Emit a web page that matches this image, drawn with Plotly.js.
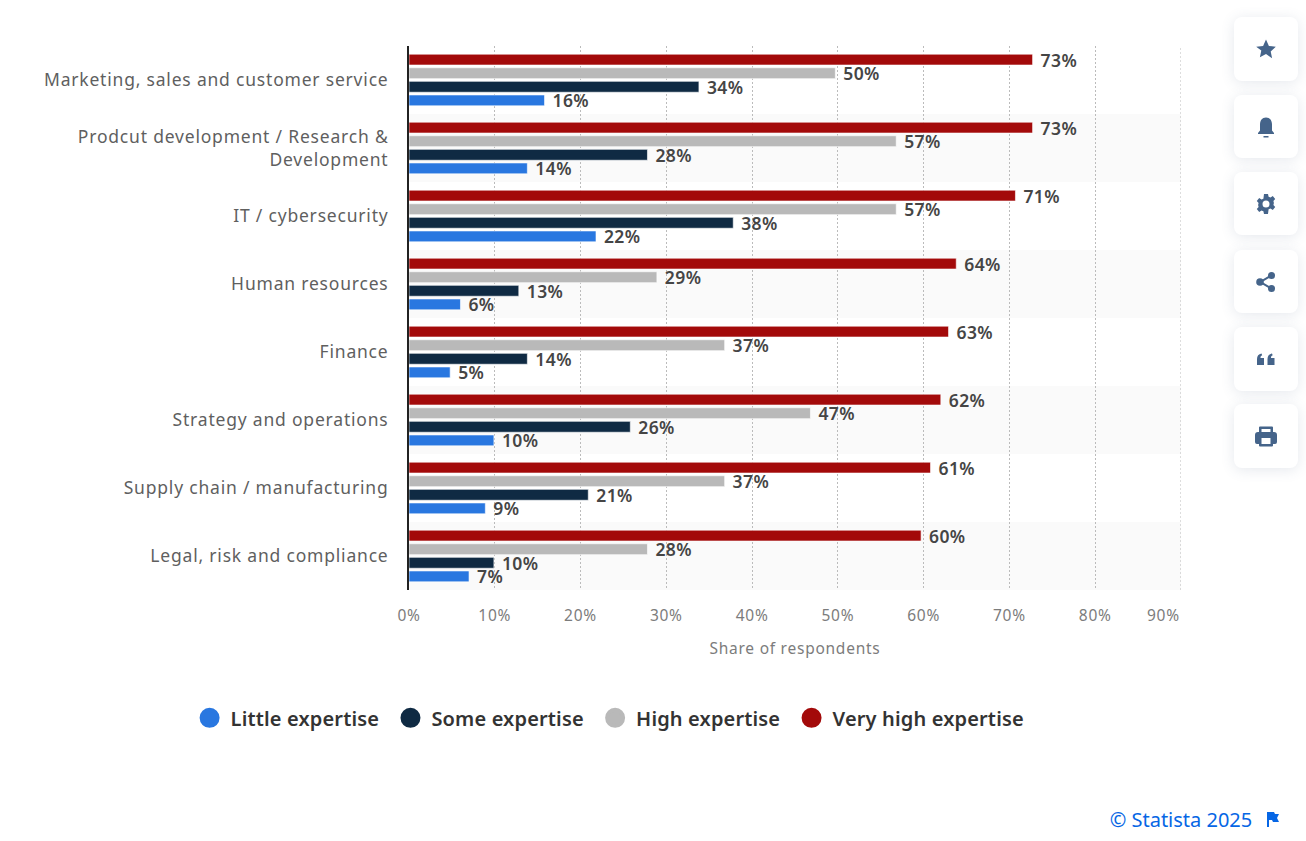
<!DOCTYPE html>
<html>
<head>
<meta charset="utf-8">
<script src="https://cdn.plot.ly/plotly-3.0.1.min.js"></script>
<style>
html,body{margin:0;padding:0;background:#fff;overflow:hidden}
#chart{position:absolute;left:0;top:0;width:1306px;height:841px}
.ytick text{letter-spacing:.8px}
.xtick text,.xtitle,.annotation-text{letter-spacing:.75px}
.annotation[data-index="1"] .annotation-text{letter-spacing:0}
.bartext{letter-spacing:.4px}
.legendtext{letter-spacing:.15px}
.btn{position:absolute;left:1234px;width:64px;background:#fff;border-radius:8px;box-shadow:0 2px 14px rgba(70,95,130,.14);display:flex;align-items:center;justify-content:center}
.btn svg{width:24px;height:24px;fill:#45648a}
#flag{position:absolute;left:1265px;top:811px;width:15px;height:16px;fill:#0666e5}
</style>
</head>
<body>
<div id="chart"></div>
<div class="btn" style="top:17px;height:64px"><svg viewBox="0 0 24 24"><path d="M12 2.5l2.9 6.4 6.9.8-5.1 4.7 1.4 6.9L12 17l-6.1 3.3 1.4-6.9L2.2 9.7l6.9-.8z"/></svg></div>
<div class="btn" style="top:95px;height:63px"><svg viewBox="0 0 24 24"><path d="M12 2.5c4 0 6 3 6 7v6l2 2.500v1H4v-1l2-2.500v-6c0-4 2-7 6-7zM9.500 21h5v1.500h-5z"/></svg></div>
<div class="btn" style="top:172px;height:63px"><svg viewBox="0 0 24 24"><path fill-rule="evenodd" d="M10 2h4l.6 2.700 1.900.8 2.300-1.500 2.400 3-1.800 2 .5 2-.5 2 1.800 2-2.400 3-2.300-1.500-1.900.8L14 22h-4l-.6-2.700-1.900-.8L5.200 20l-2.400-3 1.800-2-.5-2 .5-2-1.800-2 2.400-3 2.300 1.500 1.900-.8zM12 8.500a3.500 3.500 0 1 0 0 7 3.500 3.500 0 0 0 0-7z"/></svg></div>
<div class="btn" style="top:250px;height:63px"><svg viewBox="0 0 24 24"><circle cx="6" cy="12" r="3.800"/><circle cx="17.500" cy="5.500" r="3.500"/><circle cx="17.500" cy="18.500" r="3.500"/><path d="M6 11l11-6.500 1 1.700-11 6.500zM7 11.300l11 6.500-1 1.700-11-6.500z"/></svg></div>
<div class="btn" style="top:327px;height:64px"><svg viewBox="0 0 24 24"><path d="M3 18v-6c0-3 1.500-5 4.500-5.500l.7 1.800C6.800 8.800 6.500 9.500 6.500 11H10v7zM13.500 18v-6c0-3 1.500-5 4.500-5.500l.7 1.800c-1.400.5-1.700 1.200-1.700 2.700h3.500v7z"/></svg></div>
<div class="btn" style="top:404px;height:64px"><svg viewBox="0 0 24 24"><path fill-rule="evenodd" d="M6 2.500h12a1 1 0 0 1 1 1V8h1a3 3 0 0 1 3 3v7a2 2 0 0 1-2 2h-2v1.500a1 1 0 0 1-1 1H6a1 1 0 0 1-1-1V20H3a2 2 0 0 1-2-2v-7a3 3 0 0 1 3-3h1V3.500a1 1 0 0 1 1-1zM7.500 5v3h9V5zM7.500 14v6h9v-6z"/></svg></div>
<svg id="flag" viewBox="0 0 15 16"><path d="M2 1h7l1 2h4l-2 4 2 4H8l-1-2H4v7H2z"/></svg>
<script>
// Row labels, top to bottom
var categories = [
  "Marketing, sales and customer service",
  "Prodcut development / Research &<br>Development",
  "IT / cybersecurity",
  "Human resources",
  "Finance",
  "Strategy and operations",
  "Supply chain / manufacturing",
  "Legal, risk and compliance"
];
// Shares (labels print them rounded)
var veryHigh = [72.7, 72.7, 70.7, 63.8, 62.9, 62.0, 60.8, 59.7];
var high     = [49.7, 56.8, 56.8, 28.9, 36.8, 46.8, 36.8, 27.8];
var some     = [33.8, 27.8, 37.8, 12.8, 13.8, 25.8, 20.9,  9.9];
var little   = [15.8, 13.8, 21.8,  6.0,  4.8,  9.9,  8.9,  7.0];
var seriesNames = ["Little expertise", "Some expertise", "High expertise", "Very high expertise"];
var colors = ["#2977e0", "#0f2a43", "#b9b9b9", "#a30a0a"];
var tickValues = [0, 10, 20, 30, 40, 50, 60, 70, 80, 90];
var tickLabels = ["0%", "10%", "20%", "30%", "40%", "50%", "60%", "70%", "80%", ""];
var lastTickLabel = "90%";
var axisTitle = "Share of respondents";
var credit = "\u00a9 Statista 2025";

var FONT = '"Noto Sans", "Open Sans", sans-serif';
var GRID_COLOR = "#bbbbbb", GRID_DASH = "2px,2px";
function barTrace(values, idx) {
  return {
    type: "bar", orientation: "h", name: seriesNames[idx],
    x: values, y: categories, showlegend: false, hoverinfo: "x+y",
    marker: {color: colors[idx], line: {color: "rgba(255,255,255,0.6)", width: 1}},
    texttemplate: "\u00a0%{x:.0f}%", textposition: "outside", constraintext: "none",
    cliponaxis: false, textangle: 0,
    textfont: {family: FONT, size: 17.5, color: "#454545", weight: 600}
  };
}
function legendTrace(idx) {
  return {
    type: "scatter", mode: "markers", name: seriesNames[idx] + "\u00a0",
    x: [null], y: [categories[0]], showlegend: true,
    marker: {color: colors[idx], size: 16, symbol: "circle", line: {color: colors[idx], width: 4}}
  };
}
var traces = [barTrace(veryHigh, 3), barTrace(high, 2), barTrace(some, 1), barTrace(little, 0),
  legendTrace(0), legendTrace(1), legendTrace(2), legendTrace(3)];

var shapes = [];
[1, 3, 5, 7].forEach(function (i) {
  shapes.push({type: "rect", layer: "below", xref: "paper", yref: "y", x0: 0, x1: 1,
    y0: i - 0.5, y1: i + 0.5, fillcolor: "#fafafa", line: {width: 0}});
});
// gridline at the axis end, which Plotly clips away
shapes.push({type: "line", layer: "below", xref: "x", yref: "paper", x0: 90, x1: 90, y0: 0, y1: 1,
  line: {color: GRID_COLOR, width: 1, dash: GRID_DASH}});

var layout = {
  width: 1306, height: 841,
  margin: {l: 409, r: 125, t: 46, b: 251, pad: 0},
  paper_bgcolor: "#fff", plot_bgcolor: "#fff",
  font: {family: FONT},
  barmode: "group", bargap: 0.2, bargroupgap: 0.2,
  shapes: shapes,
  xaxis: {
    range: [0, 90], tickmode: "array", tickvals: tickValues, ticktext: tickLabels,
    showgrid: true, gridcolor: GRID_COLOR, griddash: GRID_DASH, gridwidth: 1,
    zeroline: false, showline: false, ticks: "",
    tickfont: {family: FONT, size: 15.5, color: "#7c7c7c"},
    ticklabelstandoff: 14,
    title: {text: axisTitle, font: {family: FONT, size: 15.5, color: "#7c7c7c"}, standoff: 18}
  },
  yaxis: {
    type: "category", categoryorder: "array", categoryarray: categories,
    range: [7.5, -0.5], showgrid: false, zeroline: false,
    showline: true, linecolor: "#222", linewidth: 2, ticks: "",
    ticklabelstandoff: 15,
    tickfont: {family: FONT, size: 17.5, color: "#5f5f5f"}
  },
  legend: {
    orientation: "h", x: -0.2855, xanchor: "left", y: -0.235, yanchor: "middle",
    itemsizing: "trace", itemwidth: 32, traceorder: "normal",
    font: {family: FONT, size: 20, color: "#333", weight: 600},
    bgcolor: "rgba(0,0,0,0)"
  },
  annotations: [
    {xref: "x", yref: "paper", x: 90, y: 0, xanchor: "right", yanchor: "top", yshift: -12, xshift: 1, showarrow: false,
     text: lastTickLabel, font: {family: FONT, size: 15.5, color: "#7c7c7c"}},
    {xref: "paper", yref: "paper", x: (1260 - 409) / 772, y: -(819 - 590) / 544, xanchor: "right", yanchor: "middle",
     showarrow: false, text: credit, font: {family: FONT, size: 20, color: "#0666e5"}}
  ]
};
Plotly.newPlot("chart", traces, layout, {displayModeBar: false, responsive: false});
</script>
</body>
</html>
